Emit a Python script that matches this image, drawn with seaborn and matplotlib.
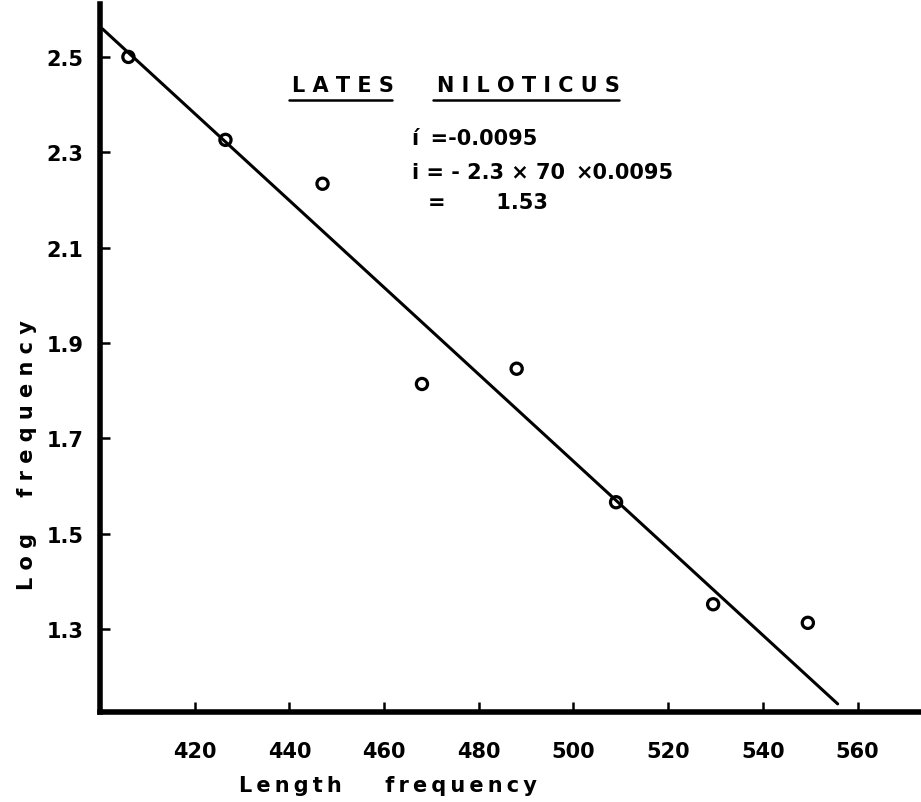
import matplotlib
matplotlib.use("Agg")
import matplotlib.pyplot as plt
import pandas as pd
import seaborn as sns

# titik data
panjang = [406, 426.5, 447, 468, 488, 509, 529.5, 549.5]
log_frek = [2.50, 2.326, 2.234, 1.814, 1.846, 1.566, 1.352, 1.313]

# garis regresi yang digambar tangan
garis_x = [400.5, 555.8]
garis_y = [2.559, 1.143]

x_ticks = [420, 440, 460, 480, 500, 520, 540, 560]
y_ticks = [1.3, 1.5, 1.7, 1.9, 2.1, 2.3, 2.5]

sns.set_style("ticks")
plt.rcParams['font.family'] = ['DejaVu Sans']
plt.rcParams['text.color'] = 'black'
plt.rcParams['axes.labelcolor'] = 'black'
plt.rcParams['xtick.color'] = 'black'
plt.rcParams['ytick.color'] = 'black'
plt.rcParams['axes.edgecolor'] = 'black'

TS = '\u2009'  # spasi tipis untuk huruf yang renggang


def renggang(s, sep=TS):
    return sep.join(s)


W, H = 921, 803
fig = plt.figure(figsize=(W / 100, H / 100), dpi=100)
ax = fig.add_axes([100 / W, 1 - 713 / H, 821 / W, 708 / H])

df_titik = pd.DataFrame({'panjang': panjang, 'log_frek': log_frek})
df_garis = pd.DataFrame({'x': garis_x, 'y': garis_y})

sns.lineplot(data=df_garis, x='x', y='y', color='black', linewidth=2.2, ax=ax)
sns.scatterplot(data=df_titik, x='panjang', y='log_frek', marker='o',
                facecolor='none', edgecolor='black', s=65, linewidth=2.3,
                ax=ax, zorder=3)

ax.set_xlim(400, 573.4)
ax.set_ylim(1.126, 2.611)
ax.set_xticks(x_ticks)
ax.set_yticks(y_ticks)
ax.set_xticklabels([str(v) for v in x_ticks])
ax.set_yticklabels([f"{v:.1f}" for v in y_ticks])
ax.tick_params(direction='in', length=7, width=1.8, labelsize=15)
ax.tick_params(axis='x', pad=21)
ax.tick_params(axis='y', pad=12)
for lbl in ax.get_xticklabels() + ax.get_yticklabels():
    lbl.set_fontweight('bold')

sns.despine(ax=ax)
ax.spines['left'].set_linewidth(4)
ax.spines['bottom'].set_linewidth(4)

ax.set_xlabel(renggang('Length') + '      ' + renggang('frequency'),
              fontsize=15, fontweight='bold', va='center', ha='center')
ax.set_ylabel(renggang('Log', ' ') + '     ' + renggang('frequency', ' '),
              fontsize=15, fontweight='bold', va='center', ha='center')
ax.xaxis.set_label_coords((388 - 100) / 821, (713 - 786) / 708)
ax.yaxis.set_label_coords((27 - 100) / 821, (713 - 455) / 708)


def teks(px, py, s, size=15, **kw):
    fig.text(px / W, 1 - py / H, s, fontsize=size, fontweight='bold',
             va='center', **kw)


# judul bergaris bawah
teks(292, 86, renggang('LATES', ' '))
teks(437, 86, renggang('NILOTICUS', ' '))
for x0, x1 in [(289, 392), (433, 619)]:
    fig.add_artist(plt.Line2D([x0 / W, x1 / W], [1 - 101 / H, 1 - 101 / H],
                              color='black', linewidth=1.8))

teks(412, 139, 'í ' + TS + '=-0.0095')
teks(412, 173, 'i = - 2.3 × 70')
teks(575, 173, '×0.0095')
teks(428, 203, '=       1.53')

fig.savefig('out.png', dpi=100)
